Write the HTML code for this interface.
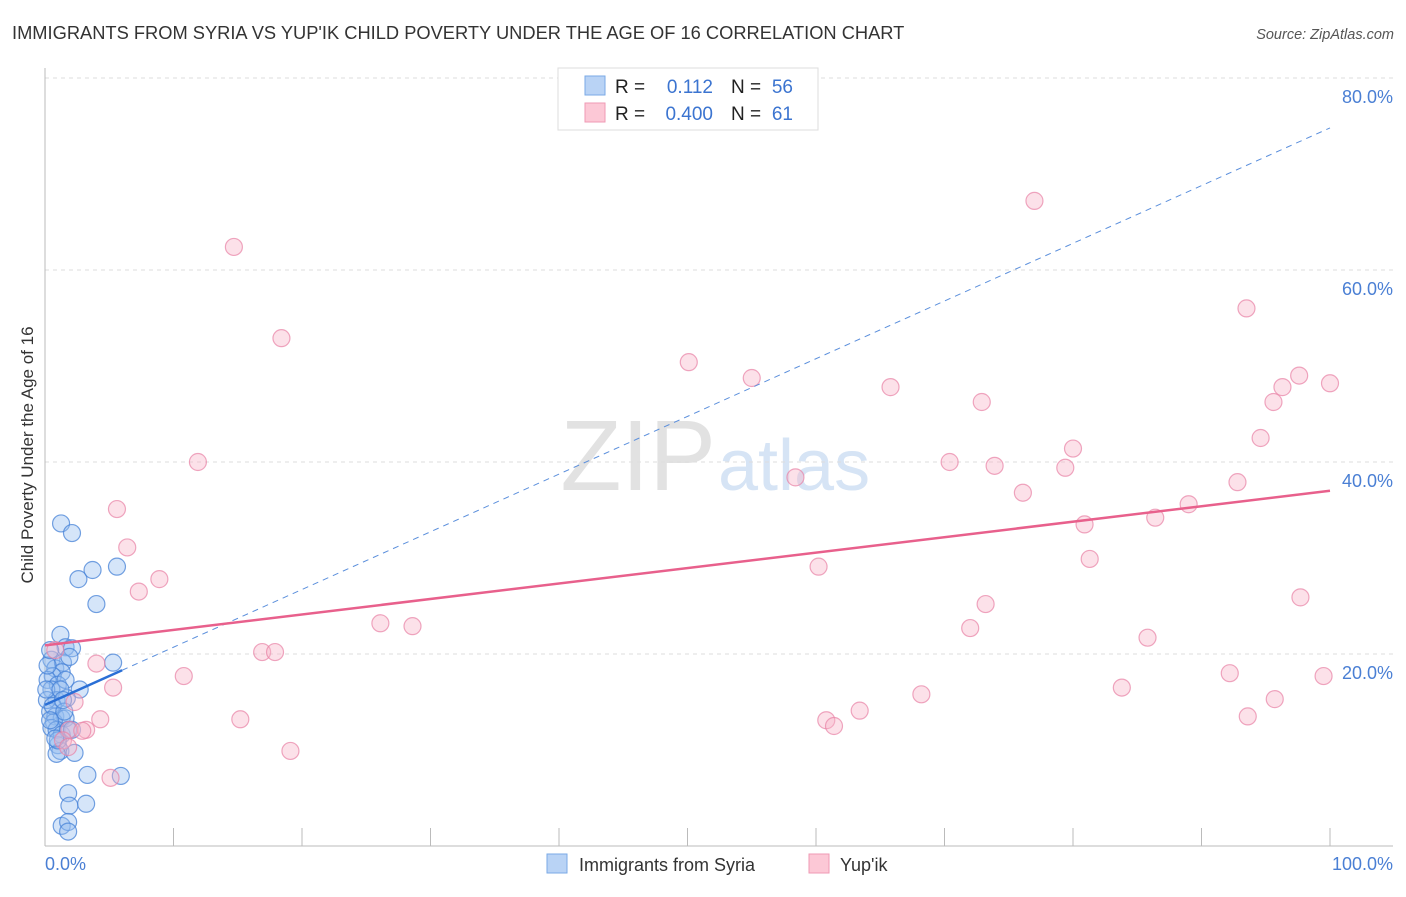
<!DOCTYPE html>
<html><head><meta charset="utf-8"><style>
body{margin:0;background:#fff;font-family:"Liberation Sans",sans-serif;}
svg text{font-family:"Liberation Sans",sans-serif;}
</style></head><body>
<svg id="chart" width="1406" height="892" xmlns="http://www.w3.org/2000/svg">
<text x="12" y="39" font-size="18.3" fill="#333">IMMIGRANTS FROM SYRIA VS YUP'IK CHILD POVERTY UNDER THE AGE OF 16 CORRELATION CHART</text>
<text x="1394" y="39" font-size="14.5" fill="#555" font-style="italic" text-anchor="end">Source: ZipAtlas.com</text>
<text x="716" y="490" font-size="100" fill="#e2e2e2" text-anchor="end" font-family="Liberation Serif">ZIP</text>
<text x="718" y="490" font-size="72" fill="#d6e4f5">atlas</text>
<g id="grid"></g>
<g id="axes"></g>
<g id="marks"></g>
<text transform="translate(33,455) rotate(-90)" font-size="17" fill="#333" text-anchor="middle">Child Poverty Under the Age of 16</text>
<text x="45" y="870" font-size="18" fill="#4a7fd4">0.0%</text>
<text x="1393" y="870" font-size="18" fill="#4a7fd4" text-anchor="end">100.0%</text>
<g>
<rect x="558" y="68" width="260" height="62" fill="#fff" stroke="#ddd"/>
<rect x="585" y="76" width="20" height="19" fill="#b9d3f5" stroke="#7aa9e6"/>
<rect x="585" y="103" width="20" height="19" fill="#fcc8d6" stroke="#ef9ab4"/>
<text x="615" y="93" font-size="19" fill="#222">R =</text><text x="713" y="93" font-size="19" fill="#3b74d0" text-anchor="end">0.112</text>
<text x="731" y="93" font-size="19" fill="#222">N =</text><text x="793" y="93" font-size="19" fill="#3b74d0" text-anchor="end">56</text>
<text x="615" y="120" font-size="19" fill="#222">R =</text><text x="713" y="120" font-size="19" fill="#3b74d0" text-anchor="end">0.400</text>
<text x="731" y="120" font-size="19" fill="#222">N =</text><text x="793" y="120" font-size="19" fill="#3b74d0" text-anchor="end">61</text>
</g>
<g>
<rect x="547" y="854" width="20" height="19" fill="#b9d3f5" stroke="#7aa9e6"/>
<text x="579" y="871" font-size="18" fill="#333">Immigrants from Syria</text>
<rect x="809" y="854" width="20" height="19" fill="#fcc8d6" stroke="#ef9ab4"/>
<text x="840" y="871" font-size="18" fill="#333">Yup'ik</text>
</g>
</svg>
<script>
const yTicks=[20,40,60,80];
const yTickLabels=["20.0%","40.0%","60.0%","80.0%"];
const xTicks=[10,20,30,40,50,60,70,80,90,100];
const syriaX=[1.25,2.1,2.6,3.7,5.6,4.0,1.2,1.6,2.1,5.3,0.5,0.8,1.4,1.9,1.3,0.6,0.2,1.0,1.6,2.7,0.5,0.9,1.7,0.4,0.8,1.3,0.7,1.6,0.5,0.9,1.3,1.8,2.1,1.0,1.2,2.3,0.9,3.3,5.9,1.8,1.9,3.2,1.3,1.8,1.8,0.2,0.4,0.15,0.1,0.6,1.2,1.5,1.0,0.8,0.4,1.4];
const syriaY=[33.6,32.6,27.8,28.75,29.1,25.2,22.0,20.7,20.6,19.1,19.4,18.5,19.1,19.7,18.1,17.7,17.3,16.8,17.3,16.3,16.3,15.2,15.4,14.0,13.5,13.3,12.9,13.3,12.3,12.1,11.6,12.1,12.1,10.5,9.9,9.7,9.6,7.4,7.3,5.5,4.2,4.4,2.1,2.5,1.5,18.8,20.4,15.2,16.3,14.6,16.3,14.0,11.0,11.2,13.1,15.2];
const yupikX=[14.7,18.4,11.9,5.6,6.4,8.9,7.3,10.8,4.0,5.3,2.3,4.3,3.2,1.9,2.9,15.2,16.9,17.9,26.1,28.6,19.1,5.1,0.8,1.4,50.1,55.0,65.8,72.9,77.0,93.5,70.4,73.9,80.0,79.4,76.1,58.4,80.9,86.4,89.0,92.8,94.6,95.6,96.3,97.6,100,60.2,81.3,73.2,72.0,85.8,97.7,92.2,99.5,68.2,63.4,60.8,61.4,83.8,93.6,95.7,1.8];
const yupikY=[62.4,52.9,40.0,35.1,31.1,27.8,26.5,17.7,19.0,16.5,15.0,13.2,12.1,12.1,12.0,13.2,20.2,20.2,23.2,22.9,9.9,7.1,20.4,11.0,50.4,48.75,47.8,46.25,67.2,56.0,40.0,39.6,41.4,39.4,36.8,38.4,33.5,34.2,35.6,37.9,42.5,46.25,47.8,49.0,48.2,29.1,29.9,25.2,22.7,21.7,25.9,18.0,17.7,15.8,14.1,13.1,12.5,16.5,13.5,15.3,10.3];
const syriaTrend=[14.7,74.8];
const yupikTrend=[20.9,37.0];
const X0=45,X1=1330,Y0=846,YS=9.6;
const sx=v=>X0+v*(X1-X0)/100;
const sy=v=>Y0-v*YS;
const NS="http://www.w3.org/2000/svg";
function mk(tag,parent,attrs){const e=document.createElementNS(NS,tag);for(const k in attrs)e.setAttribute(k,attrs[k]);parent.appendChild(e);return e;}
const grid=document.getElementById('grid'),axes=document.getElementById('axes'),marks=document.getElementById('marks');
yTicks.forEach((t,i)=>{
 const l=mk('line',grid,{x1:45,x2:1393,y1:sy(t),y2:sy(t),stroke:'#ddd','stroke-dasharray':'4,4'});
 
 
 const tx=mk('text',grid,{x:1393,y:sy(t)+25,'font-size':18,fill:'#4a7fd4','text-anchor':'end'});
 tx.textContent=yTickLabels[i];
 
 
});
const ya=mk('line',axes,{x1:45,x2:45,y1:68,y2:846,stroke:'#bbb'});


const xa=mk('line',axes,{x1:45,x2:1393,y1:846,y2:846,stroke:'#bbb'});


xTicks.forEach(t=>{
 const k=mk('line',axes,{x1:sx(t),x2:sx(t),y1:828,y2:846,stroke:'#bbb'});
 
 
});
syriaX.forEach((v,i)=>{
 const c=mk('circle',marks,{cx:sx(v),cy:sy(syriaY[i]),r:8.5,fill:'rgba(150,190,240,0.4)',stroke:'rgba(70,130,215,0.75)','stroke-width':1.2});
 
 
});
yupikX.forEach((v,i)=>{
 const c=mk('circle',marks,{cx:sx(v),cy:sy(yupikY[i]),r:8.5,fill:'rgba(248,180,200,0.4)',stroke:'rgba(232,130,165,0.7)','stroke-width':1.2});
 
 
});
const st=v=>syriaTrend[0]+(syriaTrend[1]-syriaTrend[0])*v/100;
const d=mk('line',marks,{x1:sx(6),y1:sy(st(6)),x2:sx(100),y2:sy(st(100)),stroke:'#5b8fdc','stroke-width':1,'stroke-dasharray':'6,5'});


const s=mk('line',marks,{x1:sx(0),y1:sy(st(0)),x2:sx(6),y2:sy(st(6)),stroke:'#2a6fd6','stroke-width':2.5});


const p=mk('line',marks,{x1:sx(0),y1:sy(yupikTrend[0]),x2:sx(100),y2:sy(yupikTrend[1]),stroke:'#e8608c','stroke-width':2.5});


</script>
</body></html>
